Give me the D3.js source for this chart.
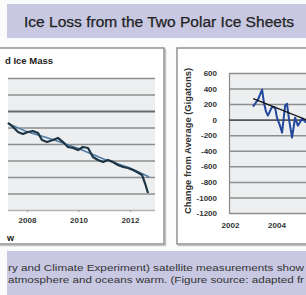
<!DOCTYPE html>
<html><head><meta charset="utf-8">
<script src="https://cdn.jsdelivr.net/npm/d3@7"></script>
<style>html,body{margin:0;padding:0;background:#fff;overflow:hidden}svg{display:block}</style>
</head><body>
<script>
// ---- data ----
const titleText = "Ice Loss from the Two Polar Ice Sheets";
const leftPanelTitle = "d Ice Mass";
const captionLines = ["ry and Climate Experiment) satellite measurements show",
                      "atmosphere and oceans warm. (Figure source: adapted fr"];
const leftXTicks = [2008, 2010, 2012];
const leftGrid = [-1200, -1000, -800, -600, -400, -200, 0, 200, 400];
const leftYears = [2007.26,2007.46,2007.65,2007.84,2008.04,2008.23,2008.43,2008.58,2008.78,2009.01,2009.20,2009.40,2009.59,2009.79,2009.98,2010.17,2010.37,2010.56,2010.76,2010.95,2011.15,2011.34,2011.53,2011.73,2011.92,2012.12,2012.27,2012.47,2012.58,2012.70];
const leftMass  = [-145,-194,-255,-279,-255,-242,-267,-352,-376,-352,-327,-376,-436,-448,-473,-436,-448,-558,-594,-618,-594,-618,-655,-679,-691,-715,-739,-776,-873,-994];
const leftTrendYears = [2007.26,2008.0,2009.0,2010.0,2011.0,2012.0,2012.75];
const leftTrendMass  = [-150,-250,-345,-455,-585,-690,-800];
const rightYTicks = [600,400,200,0,-200,-400,-600,-800,-1000,-1200];
const rightXTicks = [2002, 2004];
const rightYears = [2002.99,2003.20,2003.38,2003.46,2003.55,2003.63,2003.81,2003.94,2004.02,2004.15,2004.24,2004.37,2004.45,2004.54,2004.67,2004.80,2004.92,2005.10,2005.27];
const rightMass  = [167,256,385,218,103,51,167,154,26,-77,-167,179,205,0,-231,26,-77,13,-38];
const rightTrendYears = [2003.0, 2005.27];
const rightTrendMass  = [270, 0];
const rightYLabel = "Change from Average (Gigatons)";

const W = 306, H = 295;
const svg = d3.select("body").append("svg").attr("width", W).attr("height", H)
  .style("font-family", "Arial, 'Liberation Sans', sans-serif");

// background bands
svg.append("rect").attr("x",0).attr("y",0).attr("width",W).attr("height",H).attr("fill","#fbfbfb");
svg.append("rect").attr("x",7).attr("y",4).attr("width",W-7).attr("height",34).attr("fill","#c8c8e2");
svg.append("rect").attr("x",7).attr("y",251).attr("width",W-7).attr("height",44).attr("fill","#c8c8e2");

svg.append("text").attr("x",159).attr("y",27).attr("text-anchor","middle")
  .attr("font-size",14).attr("fill","#222").attr("stroke","#222").attr("stroke-width",0.25)
  .attr("textLength",270).attr("lengthAdjust","spacingAndGlyphs").text(titleText);

captionLines.forEach((t,i)=>{
  svg.append("text").attr("x",8).attr("y",271+i*12).attr("font-size",9.5).attr("fill","#333")
    .attr("textLength",296).attr("lengthAdjust","spacingAndGlyphs").text(t);
});

// panels (shadow + border)
function panel(x, y, w, h){
  svg.append("rect").attr("x",x+1.5).attr("y",y+1.5).attr("width",w).attr("height",h)
    .attr("fill","none").attr("stroke","#c4c4c4").attr("stroke-width",1.5);
  svg.append("rect").attr("x",x).attr("y",y).attr("width",w).attr("height",h)
    .attr("fill","#fff").attr("stroke","#8a8a8a").attr("stroke-width",1.4);
}
panel(-5, 48, 169, 196);
panel(177, 48, 140, 196);

// ---------- left panel ----------
const xL = d3.scaleLinear().domain([2007.262, 2012.971]).range([8, 155]);
const yL = d3.scaleLinear().domain([-1200, 400]).range([210, 78]);
svg.append("rect").attr("x",8).attr("y",78).attr("width",147).attr("height",132).attr("fill","#eceef0");
const gLgrid = svg.append("g").attr("transform","translate(8,0)")
  .call(d3.axisLeft(yL).tickValues(leftGrid).tickSize(-147).tickFormat(""));
gLgrid.select(".domain").remove();
gLgrid.selectAll(".tick line").attr("stroke", d => d===0 ? "#6a6a6a" : (d===-1200 ? "#b5b5b5" : "#8e8e8e"))
  .attr("stroke-width", d => d===0 ? 1.8 : 1.5);
const gLx = svg.append("g").attr("transform","translate(0,210)")
  .call(d3.axisBottom(xL).tickValues(leftXTicks).tickFormat(d => String(d)).tickSize(2).tickPadding(5));
gLx.select(".domain").remove();
gLx.selectAll(".tick line").attr("stroke","#999");
gLx.selectAll("text").attr("font-size",8).attr("font-weight","bold").attr("fill","#333");

const lineL = d3.line().x(d=>xL(d[0])).y(d=>yL(d[1]));
svg.append("path").datum(leftTrendYears.map((y,i)=>[y,leftTrendMass[i]]))
  .attr("d",lineL).attr("fill","none").attr("stroke","#4f7fa6").attr("stroke-width",1.6);
svg.append("path").datum(leftYears.map((y,i)=>[y,leftMass[i]]))
  .attr("d",lineL).attr("fill","none").attr("stroke","#1d3445").attr("stroke-width",2.2)
  .attr("stroke-linejoin","round");

svg.append("text").attr("x",5).attr("y",64).attr("font-size",9.5).attr("font-weight","bold")
  .attr("fill","#222").text(leftPanelTitle);
svg.append("text").attr("x",7).attr("y",241).attr("font-size",9).attr("font-weight","bold")
  .attr("fill","#222").text("w");

// ---------- right panel ----------
const xR = d3.scaleLinear().domain([2001.957, 2005.269]).range([229, 306]);
const yR = d3.scaleLinear().domain([-1200, 600]).range([213, 73]);
svg.append("rect").attr("x",229).attr("y",73).attr("width",77).attr("height",140).attr("fill","#eceef0");
const gRy = svg.append("g").attr("transform","translate(229,0)")
  .call(d3.axisLeft(yR).tickValues(rightYTicks).tickFormat(d => String(d)).tickSize(-77).tickPadding(12));
gRy.select(".domain").attr("stroke","#8a8a8a").attr("stroke-width",1.2);
gRy.selectAll(".tick line").attr("stroke", d => d===0 ? "#555" : "#8e8e8e")
  .attr("stroke-width", d => d===0 ? 1.8 : 1.5);
gRy.selectAll("text").attr("font-size",8).attr("font-weight","bold").attr("fill","#333");
const gRx = svg.append("g").attr("transform","translate(0,213)")
  .call(d3.axisBottom(xR).tickValues(rightXTicks).tickFormat(d => String(d)).tickSize(0).tickPadding(9));
gRx.select(".domain").remove();
gRx.selectAll("text").attr("font-size",8).attr("font-weight","bold").attr("fill","#333");

const lineR = d3.line().x(d=>xR(d[0])).y(d=>yR(d[1]));
svg.append("path").datum(rightYears.map((y,i)=>[y,rightMass[i]]))
  .attr("d",lineR).attr("fill","none").attr("stroke","#23479a").attr("stroke-width",2)
  .attr("stroke-linejoin","round");
svg.append("path").datum(rightTrendYears.map((y,i)=>[y,rightTrendMass[i]]))
  .attr("d",lineR).attr("fill","none").attr("stroke","#111").attr("stroke-width",1.2);

svg.append("text").attr("transform","translate(191,141) rotate(-90)").attr("text-anchor","middle")
  .attr("font-size",9).attr("font-weight","bold").attr("fill","#333")
  .attr("textLength",146).attr("lengthAdjust","spacingAndGlyphs").text(rightYLabel);
</script>
</body></html>
